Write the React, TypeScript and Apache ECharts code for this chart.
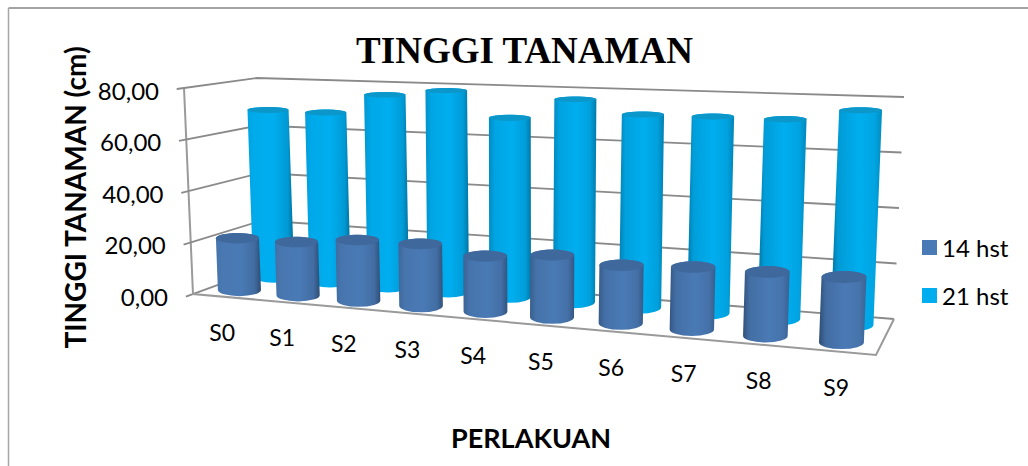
import React, { useEffect, useRef } from "react";
import * as echarts from "echarts";

const categories = ["S0", "S1", "S2", "S3", "S4", "S5", "S6", "S7", "S8", "S9"];
const hst14 = [20.4, 20.6, 23.1, 23.4, 20.6, 22.8, 21.0, 22.2, 22.4, 22.6];
const hst21 = [68.3, 68.2, 76.2, 78.7, 69.0, 77.0, 72.2, 72.4, 72.4, 76.6];
const valueTicks = [0, 20, 40, 60, 80];
const tickLabels = ["0,00", "20,00", "40,00", "60,00", "80,00"];

const LATO = "Lato, Carlito, sans-serif";

// Corners of the 3D box on the page: [x, y]
const FLB = [193, 294], FLT = [184, 88], BLB = [264, 268], BLT = [257, 78];
const BRB = [894, 319], BRT = [904, 97], FRB = [876, 355], FRT = [886, 117];
const PERSPECTIVE = 0.85;

const lerp = (a: number, b: number, t: number) => a + (b - a) * t;
const lerp2 = (a: number[], b: number[], t: number) => [lerp(a[0], b[0], t), lerp(a[1], b[1], t)];
const warp = (u: number) => (PERSPECTIVE * u) / (1 - u + PERSPECTIVE * u);
function project(u: number, z: number, h: number) {
  const s = warp(u);
  const bottom = lerp2(lerp2(FLB, FRB, s), lerp2(BLB, BRB, s), z);
  const top = lerp2(lerp2(FLT, FRT, s), lerp2(BLT, BRT, s), z);
  return lerp2(bottom, top, h);
}
const ellipseRy = (y: number) => Math.min(6.5, 3 + (y - 110) * 0.0176);

function hexMix(a: string, b: string, t: number) {
  const pa = [1, 3, 5].map((i) => parseInt(a.slice(i, i + 2), 16));
  const pb = [1, 3, 5].map((i) => parseInt(b.slice(i, i + 2), 16));
  return `rgb(${pa.map((v, i) => Math.round(lerp(v, pb[i], t))).join(",")})`;
}

function cylinderRenderer(depth: number, baseRx: number, light: string, dark: string, cap: string) {
  return (params: any, api: any) => {
    const cs = params.coordSys;
    const i = api.value(0);
    const [px, py] = api.coord([i, api.value(1)]);
    const u = (px - cs.x) / cs.width;
    const h = 1 - (py - cs.y) / cs.height;
    const T = project(u, depth, h);
    const B = project(u, depth, 0);
    const s = warp(u);
    const rx = baseRx + s;
    const ryT = ellipseRy(T[1]);
    const ryB = ellipseRy(B[1]);
    const d =
      `M ${T[0] - rx} ${T[1]} L ${B[0] - rx} ${B[1]} ` +
      `A ${rx} ${ryB} 0 0 0 ${B[0] + rx} ${B[1]} L ${T[0] + rx} ${T[1]} ` +
      `A ${rx} ${ryT} 0 0 0 ${T[0] - rx} ${T[1]} Z`;
    const leftShade = lerp(0.1, 0.9, s);
    const rightShade = lerp(0.9, 0.4, s);
    return {
      type: "group",
      children: [
        {
          type: "path",
          shape: { pathData: d },
          style: {
            fill: {
              type: "linear", x: 0, y: 0, x2: 1, y2: 0,
              colorStops: [
                { offset: 0, color: hexMix(light, dark, leftShade) },
                { offset: 0.14, color: hexMix(light, dark, leftShade * 0.3) },
                { offset: 0.55, color: light },
                { offset: 0.86, color: hexMix(light, dark, rightShade * 0.3) },
                { offset: 1, color: hexMix(light, dark, rightShade) },
              ],
            },
          },
        },
        { type: "ellipse", shape: { cx: T[0], cy: T[1], rx, ry: ryT }, style: { fill: cap } },
      ],
    };
  };
}

function wallRenderer(params: any, api: any) {
  const idx = params.dataIndex;
  const h = idx / (valueTicks.length - 1);
  const stroke = "#8a8a8a";
  const children: any[] = [
    {
      type: "polyline",
      shape: { points: [project(0, -0.1, h), project(0, 1, h), project(1, 1, h)] },
      style: { stroke, lineWidth: 1.8, fill: null },
    },
  ];
  const wall = project(0, 0, h);
  children.push({
    type: "text",
    style: {
      text: tickLabels[idx], x: wall[0] - 25, y: wall[1] + 2,
      align: "right", verticalAlign: "middle",
      font: `24px ${LATO}`, fill: "#000",
    },
  });
  if (idx === 0) {
    children.push({
      type: "polyline",
      shape: { points: [project(0, 0, 1), project(0, 0, 0), project(1, 0, 0), project(1, 1, 0)] },
      style: { stroke: "#9a9a9a", lineWidth: 2, fill: null },
    });
  }
  return { type: "group", children };
}

function categoryLabelRenderer(params: any, api: any) {
  const cs = params.coordSys;
  const [px] = api.coord([api.value(0), 0]);
  const p = project((px - cs.x) / cs.width, 0, 0);
  return {
    type: "text",
    style: {
      text: categories[params.dataIndex], x: p[0], y: p[1] + 35.5,
      align: "center", verticalAlign: "middle",
      font: `23px ${LATO}`, fill: "#000",
    },
  };
}

export default function App() {
  const ref = useRef<HTMLDivElement>(null);
  useEffect(() => {
    const chart = echarts.init(ref.current!, null, { renderer: "svg" });
    chart.setOption({
      animation: false,
      backgroundColor: "#fff",
      title: {
        text: "TINGGI TANAMAN",
        left: 519.5, top: 27, textAlign: "center",
        textStyle: { fontFamily: "Liberation Serif", fontWeight: "bold", fontSize: 37, color: "#000" },
      },
      legend: {
        data: ["14 hst", "21 hst"],
        orient: "vertical", left: 917, top: 230.5,
        itemWidth: 15, itemHeight: 15, itemGap: 24, icon: "rect", itemStyle: { borderWidth: 0 },
        textStyle: { fontFamily: LATO, fontSize: 24, color: "#000" },
      },
      grid: { left: 193, top: 88, width: 683, height: 206 },
      xAxis: { type: "category", data: categories, show: false },
      yAxis: { type: "value", min: 0, max: 80, interval: 20, show: false },
      graphic: [
        { type: "line", shape: { x1: 8.5, y1: 8, x2: 1028, y2: 8 }, style: { stroke: "#868686", lineWidth: 1.5 } },
        { type: "line", shape: { x1: 8.5, y1: 8, x2: 8.5, y2: 466 }, style: { stroke: "#a6a6a6", lineWidth: 1.5 } },
        {
          type: "text", x: 75, y: 197.5, rotation: Math.PI / 2,
          style: { text: "TINGGI TANAMAN (cm)", font: `bold 28px ${LATO}`, fill: "#000", align: "center", verticalAlign: "middle" },
        },
        {
          type: "text", x: 531, y: 437,
          style: { text: "PERLAKUAN", font: `bold 27px ${LATO}`, fill: "#000", align: "center", verticalAlign: "middle" },
        },
      ],
      series: [
        {
          type: "custom", name: "walls", z: 1, silent: true, clip: false,
          data: valueTicks.map((v) => [0, v]),
          encode: { x: 0, y: 1 },
          renderItem: wallRenderer,
        },
        {
          type: "custom", name: "labels", z: 1, silent: true, clip: false,
          data: categories.map((_, i) => [i, 0]),
          encode: { x: 0, y: 1 },
          renderItem: categoryLabelRenderer,
        },
        {
          type: "custom", name: "21 hst", z: 2, silent: true, clip: false,
          itemStyle: { color: "#00aeef" },
          data: hst21.map((v, i) => [i, v]),
          encode: { x: 0, y: 1 },
          renderItem: cylinderRenderer(0.75, 20.5, "#00aeef", "#005f86", "#0c97cb"),
        },
        {
          type: "custom", name: "14 hst", z: 3, silent: true, clip: false,
          itemStyle: { color: "#4a7ab5" },
          data: hst14.map((v, i) => [i, v]),
          encode: { x: 0, y: 1 },
          renderItem: cylinderRenderer(0.25, 21.5, "#4a7ab5", "#294468", "#3f689c"),
        },
      ],
    });
    return () => chart.dispose();
  }, []);
  return <div ref={ref} style={{ position: "absolute", left: 0, top: 0, width: 1028, height: 466 }} />;
}
